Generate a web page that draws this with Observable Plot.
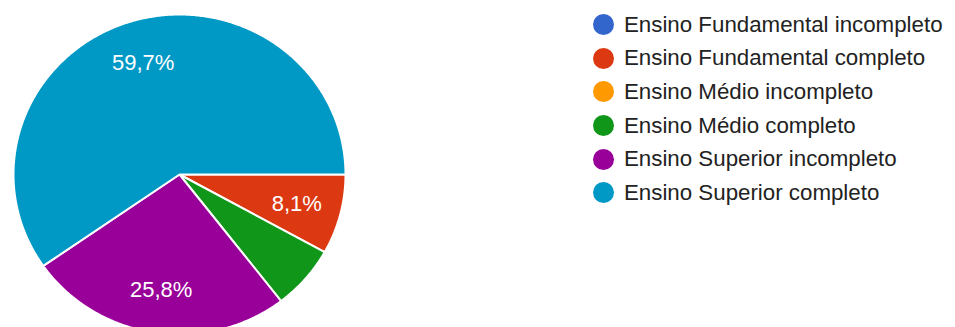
<!DOCTYPE html>
<html>
<head>
<meta charset="utf-8">
<script src="https://cdn.jsdelivr.net/npm/d3@7"></script>
<script src="https://cdn.jsdelivr.net/npm/@observablehq/plot@0.6"></script>
<style>
  html, body { margin: 0; padding: 0; background: #fff; }
  #wrap { position: relative; width: 955px; height: 327px; overflow: hidden; font-family: "Liberation Sans", Arial, sans-serif; }
  #pie { position: absolute; left: 0; top: 0; }
  #legend { position: absolute; left: 592px; top: 8px; }
  .item { height: 33.6px; display: flex; align-items: center; font-size: 22.3px; color: #222; white-space: nowrap; }
  .sw { width: 21px; height: 21px; border-radius: 50%; margin-left: 1px; margin-right: 10px; flex: none; }
</style>
</head>
<body>
<div id="wrap">
  <div id="pie"></div>
  <div id="legend"></div>
</div>
<script>
const categories = [
  "Ensino Fundamental incompleto",
  "Ensino Fundamental completo",
  "Ensino Médio incompleto",
  "Ensino Médio completo",
  "Ensino Superior incompleto",
  "Ensino Superior completo"
];
const counts = [0, 5, 0, 4, 16, 37];
const colors = ["#3366cc", "#dc3912", "#ff9900", "#109618", "#990099", "#0099c6"];

const total = d3.sum(counts);
const fmt = v => (v / total * 100).toFixed(1).replace(".", ",") + "%";

// build slice polygons (angles clockwise from 3 o'clock)
const polys = [];
const labels = [];
let acc = 0;
categories.forEach((cat, i) => {
  const v = counts[i];
  const a0 = acc / total * 2 * Math.PI;
  acc += v;
  const a1 = acc / total * 2 * Math.PI;
  if (v <= 0) return;
  polys.push({cat, x: 0, y: 0});
  const n = Math.max(2, Math.ceil((a1 - a0) / (Math.PI / 360)));
  for (let k = 0; k <= n; k++) {
    const a = a0 + (a1 - a0) * k / n;
    polys.push({cat, x: Math.cos(a), y: Math.sin(a)});
  }
  if (v / total >= 0.07) {
    const am = (a0 + a1) / 2;
    labels.push({cat, x: 0.73 * Math.cos(am), y: 0.73 * Math.sin(am), text: fmt(v)});
  }
});

const chart = Plot.plot({
  width: 360,
  height: 327,
  margin: 0,
  x: {domain: [-1, 1], range: [13, 345], axis: null},
  y: {domain: [-1, 1], range: [14, 334], axis: null},
  color: {domain: categories, range: colors},
  marks: [
    Plot.line(polys, {x: "x", y: "y", z: "cat", fill: "cat", stroke: "white", strokeWidth: 2, curve: "linear-closed"}),
    Plot.text(labels, {x: "x", y: "y", text: "text", fill: "white", fontSize: 22, fontFamily: "Liberation Sans, Arial, sans-serif"})
  ]
});
document.getElementById("pie").appendChild(chart);

const leg = document.getElementById("legend");
categories.forEach((cat, i) => {
  const row = document.createElement("div");
  row.className = "item";
  const sw = document.createElement("span");
  sw.className = "sw";
  sw.style.background = colors[i];
  const t = document.createElement("span");
  t.textContent = cat;
  row.appendChild(sw);
  row.appendChild(t);
  leg.appendChild(row);
});
</script>
</body>
</html>
